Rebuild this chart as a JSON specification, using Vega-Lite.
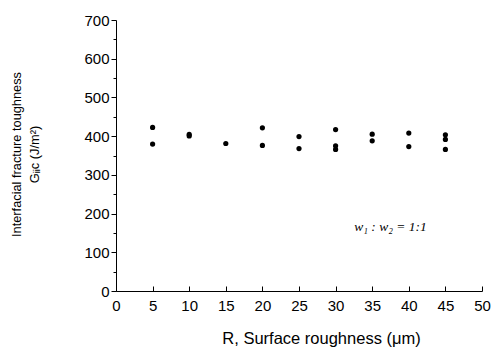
{
  "$schema": "https://vega.github.io/schema/vega-lite/v6.json",
  "autosize": "none",
  "width": 366,
  "height": 271,
  "padding": {"left": 116, "top": 20, "right": 10, "bottom": 56},
  "background": "white",
  "config": {
    "view": {"stroke": null},
    "font": "Liberation Sans",
    "axis": {
      "grid": false,
      "domainColor": "#000000",
      "tickColor": "#000000",
      "labelColor": "#000000",
      "titleColor": "#000000",
      "labelFont": "Liberation Sans",
      "titleFont": "Liberation Sans",
      "labelFontSize": 15,
      "titleFontWeight": "normal"
    }
  },
  "data": {
    "values": [
      {"R": 5, "G": 422.5},
      {"R": 5, "G": 379.4},
      {"R": 10, "G": 404.5},
      {"R": 10, "G": 400.5},
      {"R": 15, "G": 381},
      {"R": 20, "G": 421.5},
      {"R": 20, "G": 376},
      {"R": 25, "G": 399},
      {"R": 25, "G": 368},
      {"R": 30, "G": 417},
      {"R": 30, "G": 375},
      {"R": 30, "G": 365.6},
      {"R": 35, "G": 405},
      {"R": 35, "G": 388},
      {"R": 40, "G": 408},
      {"R": 40, "G": 373},
      {"R": 45, "G": 403.4},
      {"R": 45, "G": 391.5},
      {"R": 45, "G": 365.6}
    ]
  },
  "encoding": {
    "x": {
      "field": "R",
      "type": "quantitative",
      "scale": {"domain": [0, 50], "nice": false},
      "axis": {
        "values": [0, 5, 10, 15, 20, 25, 30, 35, 40, 45, 50],
        "labelOverlap": false,
        "tickSize": -5,
        "labelPadding": 12,
        "labelFlush": false,
        "title": "R, Surface roughness (μm)",
        "titleFontSize": 16.5,
        "titleX": 205,
        "titleY": 52,
        "titleBaseline": "alphabetic"
      }
    },
    "y": {
      "field": "G",
      "type": "quantitative",
      "scale": {"domain": [0, 700], "nice": false},
      "axis": {
        "values": [0, 50, 100, 150, 200, 250, 300, 350, 400, 450, 500, 550, 600, 650, 700],
        "labelOverlap": false,
        "labelExpr": "datum.value % 100 === 0 ? datum.label : ''",
        "tickSize": {"condition": {"test": "datum.value % 100 === 0", "value": 5}, "value": 3},
        "labelPadding": 2,
        "labelFlush": false,
        "title": ["Interfacial fracture toughness", "G\u1d62\u1d62c  (J/m²)"],
        "titleFontSize": 12.8,
        "titleAngle": -90,
        "titleAlign": "center",
        "titleBaseline": "alphabetic",
        "titleX": -96,
        "titleY": 134,
        "titleLineHeight": 18
      }
    }
  },
  "layer": [
    {
      "mark": {"type": "point", "filled": true, "color": "#000000", "opacity": 1, "size": 27}
    },
    {
      "data": {"values": [{"R": 37.5, "G": 165, "label": "w₁ : w₂ = 1:1"}]},
      "mark": {"type": "text", "font": "Liberation Serif", "fontSize": 13.5, "fontStyle": "italic", "color": "#000000"},
      "encoding": {
        "text": {"field": "label"}
      }
    }
  ]
}
